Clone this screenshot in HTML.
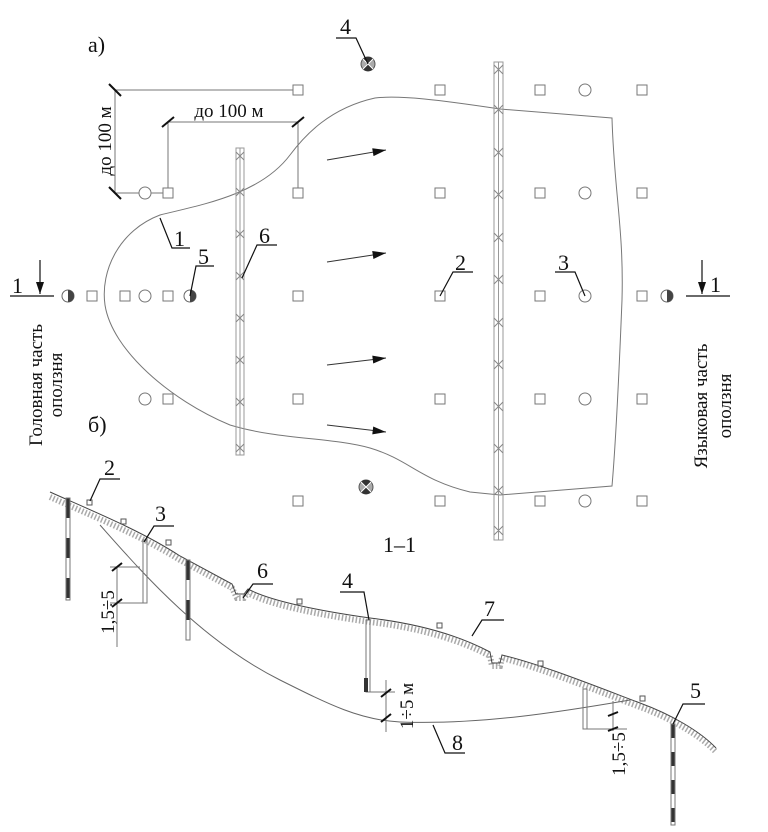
<!DOCTYPE html>
<html><head><meta charset="utf-8"><style>
html,body{margin:0;padding:0;background:#fff}
svg{display:block}
text{font-family:"Liberation Serif",serif;fill:#111}
</style></head><body>
<svg width="768" height="832" viewBox="0 0 768 832" xmlns="http://www.w3.org/2000/svg">
<defs>
<g id="sq"><rect x="-5" y="-5" width="10" height="10" fill="#fff" stroke="#777" stroke-width="1"/></g>
<g id="ci"><circle r="6" fill="#fff" stroke="#777" stroke-width="1"/></g>
<g id="hc"><circle r="6" fill="#fff" stroke="#666" stroke-width="1"/><path d="M0,-6 A6,6 0 0 1 0,6 Z" fill="#444"/></g>
<g id="xc"><circle r="7" fill="#aaa" stroke="#555" stroke-width="1"/><path d="M0,0 L-5,-5 A7,7 0 0 1 5,-5 Z M0,0 L-5,5 A7,7 0 0 0 5,5Z" fill="#333"/><path d="M-5,-5 L5,5 M5,-5 L-5,5" stroke="#fff" stroke-width="1"/></g>
<marker id="ar" viewBox="0 0 10 6" refX="10" refY="3" markerWidth="18" markerHeight="8" orient="auto" markerUnits="userSpaceOnUse"><path d="M0,0 L10,3 L0,6 Z" fill="#111"/></marker>
</defs>

<text x="88" y="52" font-size="22">а)</text>
<text x="88" y="432" font-size="22">б)</text>

<g stroke="#777" stroke-width="1" fill="none">
<line x1="115" y1="90" x2="293" y2="90"/>
<line x1="115" y1="90" x2="115" y2="193"/>
<line x1="115" y1="193" x2="139" y2="193"/>
<line x1="151" y1="193" x2="163" y2="193"/>
<line x1="168" y1="122" x2="298" y2="122"/>
<line x1="168" y1="122" x2="168" y2="188"/>
<line x1="298" y1="122" x2="298" y2="188"/>
</g>
<g stroke="#111" stroke-width="2">
<line x1="109" y1="84" x2="121" y2="96"/>
<line x1="109" y1="187" x2="121" y2="199"/>
<line x1="162" y1="127" x2="174" y2="117"/>
<line x1="292" y1="127" x2="304" y2="117"/>
</g>
<text x="229" y="117" font-size="19" text-anchor="middle">до 100 м</text>
<text transform="translate(111,141) rotate(-90)" font-size="19" text-anchor="middle">до 100 м</text>

<path d="M612,118 L500,109 C440,100 400,95 375,98 C330,108 305,135 290,155 C260,195 200,205 160,215 C120,230 100,270 105,305 C112,350 170,400 230,425 C280,440 330,437 370,448 C410,460 420,480 470,492 L500,495 L612,486 C616,440 620,350 622,300 C624,230 614,190 612,118 Z" fill="none" stroke="#777" stroke-width="1"/>

<g stroke="#999" stroke-width="1" fill="none">
<rect x="236" y="148" width="8" height="307"/>
<line x1="240" y1="148" x2="240" y2="455"/>
<rect x="494" y="62" width="9" height="478"/>
<line x1="498.5" y1="62" x2="498.5" y2="540"/>
</g>
<g stroke="#888" stroke-width="1">
<path d="M236,152l8,8M244,152l-8,8 M236,188l8,8M244,188l-8,8 M236,230l8,8M244,230l-8,8 M236,272l8,8M244,272l-8,8 M236,314l8,8M244,314l-8,8 M236,356l8,8M244,356l-8,8 M236,398l8,8M244,398l-8,8 M236,444l8,8M244,444l-8,8"/>
<path d="M494,65l9,9M503,65l-9,9 M494,105l9,9M503,105l-9,9 M494,148l9,9M503,148l-9,9 M494,190l9,9M503,190l-9,9 M494,233l9,9M503,233l-9,9 M494,275l9,9M503,275l-9,9 M494,318l9,9M503,318l-9,9 M494,360l9,9M503,360l-9,9 M494,402l9,9M503,402l-9,9 M494,444l9,9M503,444l-9,9 M494,486l9,9M503,486l-9,9 M494,526l9,9M503,526l-9,9"/>
</g>

<g stroke="#333" stroke-width="1" marker-end="url(#ar)">
<line x1="327" y1="160" x2="386" y2="150"/>
<line x1="327" y1="262" x2="386" y2="253"/>
<line x1="327" y1="365" x2="386" y2="358"/>
<line x1="327" y1="425" x2="386" y2="432"/>
</g>

<use href="#sq" x="298" y="90"/><use href="#sq" x="440" y="90"/><use href="#sq" x="540" y="90"/><use href="#ci" x="585" y="90"/><use href="#sq" x="642" y="90"/>
<use href="#ci" x="145" y="193"/><use href="#sq" x="168" y="193"/><use href="#sq" x="298" y="193"/><use href="#sq" x="440" y="193"/><use href="#sq" x="540" y="193"/><use href="#ci" x="585" y="193"/><use href="#sq" x="642" y="193"/>
<use href="#hc" x="68" y="296"/><use href="#sq" x="92" y="296"/><use href="#sq" x="125" y="296"/><use href="#ci" x="145" y="296"/><use href="#sq" x="168" y="296"/><use href="#hc" x="190" y="296"/><use href="#sq" x="298" y="296"/><use href="#sq" x="440" y="296"/><use href="#sq" x="540" y="296"/><use href="#ci" x="585" y="296"/><use href="#sq" x="642" y="296"/><use href="#hc" x="667" y="296"/>
<use href="#ci" x="145" y="399"/><use href="#sq" x="168" y="399"/><use href="#sq" x="298" y="399"/><use href="#sq" x="440" y="399"/><use href="#sq" x="540" y="399"/><use href="#ci" x="585" y="399"/><use href="#sq" x="642" y="399"/>
<use href="#sq" x="298" y="501"/><use href="#sq" x="440" y="501"/><use href="#sq" x="540" y="501"/><use href="#ci" x="585" y="501"/><use href="#sq" x="642" y="501"/>
<use href="#xc" x="368" y="64"/><use href="#xc" x="366" y="487"/>

<g stroke="#111" stroke-width="1.2" fill="none">
<path d="M336,38h20l12,26"/>
<path d="M160,218l12,30h18"/>
<path d="M242,278l15,-33h20"/>
<path d="M190,296l6,-30h18"/>
<path d="M440,296l13,-24h20"/>
<path d="M585,296l-10,-24h-20"/>
<path d="M10,296h44 M40,260v34"/>
<path d="M686,296h44 M702,260v34"/>
</g>
<path d="M36,282l4,12l4,-12z M698,282l4,12l4,-12z" fill="#111"/>
<text x="340" y="34" font-size="22">4</text>
<text x="174" y="246" font-size="22">1</text>
<text x="259" y="243" font-size="22">6</text>
<text x="198" y="264" font-size="22">5</text>
<text x="455" y="270" font-size="22">2</text>
<text x="558" y="270" font-size="22">3</text>
<text x="12" y="293" font-size="22">1</text>
<text x="710" y="292" font-size="22">1</text>
<text transform="translate(42,385) rotate(-90)" font-size="19" text-anchor="middle">Головная часть</text>
<text transform="translate(62,385) rotate(-90)" font-size="19" text-anchor="middle">оползня</text>
<text transform="translate(707,406) rotate(-90)" font-size="19" text-anchor="middle">Языковая часть</text>
<text transform="translate(731,406) rotate(-90)" font-size="19" text-anchor="middle">оползня</text>
<text x="383" y="552" font-size="22">1–1</text>

<path d="M50,497 C90,515 140,535 180,560 L232,588 L237,598 L244,598 L248,593 C270,605 320,615 370,622 C420,628 460,640 490,656 L492,666 L500,666 L502,658 C540,668 590,688 640,707 C670,718 700,735 716,752" fill="none" stroke="#aaa" stroke-width="6" stroke-dasharray="1.5 2"/>
<path d="M50,492 C90,510 140,530 180,556 L232,584 L236,594 L244,594 L248,589 C270,601 320,611 370,618 C420,624 460,636 490,652 L492,663 L500,663 L502,655 C540,664 590,684 640,703 C670,714 700,731 716,748" fill="none" stroke="#444" stroke-width="1"/>
<path d="M100,525 C140,570 200,640 280,680 C330,705 360,720 400,722 C480,725 560,712 630,700" fill="none" stroke="#666" stroke-width="1"/>

<g stroke-width="4">
<line x1="68" y1="498" x2="68" y2="600" stroke="#333" stroke-dasharray="20 20"/>
<line x1="188" y1="560" x2="188" y2="640" stroke="#333" stroke-dasharray="20 20"/>
<line x1="673" y1="724" x2="673" y2="825" stroke="#333" stroke-dasharray="14 14"/>
</g>
<g stroke="#777" stroke-width="1" fill="none">
<rect x="66" y="498" width="4" height="102"/>
<rect x="186" y="560" width="4" height="80"/>
<rect x="671" y="724" width="4" height="101"/>
<rect x="143" y="540" width="4" height="63"/>
<rect x="366" y="620" width="4" height="72"/>
<rect x="583" y="689" width="4" height="40"/>
<path d="M110,567h30 M110,603h35 M117,567v80 M370,692h25 M386,680v52 M587,729h40 M613,701v30"/>
</g>
<rect x="364" y="678" width="4" height="14" fill="#333"/>
<g fill="#fff" stroke="#555" stroke-width="1">
<rect x="87" y="500" width="5" height="5"/><rect x="121" y="519" width="5" height="5"/><rect x="166" y="540" width="5" height="5"/>
<rect x="297" y="599" width="5" height="5"/><rect x="437" y="623" width="5" height="5"/><rect x="538" y="661" width="5" height="5"/><rect x="640" y="696" width="5" height="5"/>
</g>
<g stroke="#111" stroke-width="2">
<line x1="112" y1="571" x2="122" y2="563"/><line x1="112" y1="607" x2="122" y2="599"/>
<line x1="381" y1="697" x2="391" y2="689"/><line x1="381" y1="722" x2="391" y2="714"/>
<line x1="608" y1="716" x2="618" y2="712"/><line x1="608" y1="731" x2="618" y2="727"/>
</g>
<text transform="translate(114,612) rotate(-90)" font-size="19" text-anchor="middle">1,5÷5</text>
<text transform="translate(413,706) rotate(-90)" font-size="19" text-anchor="middle">1÷5 м</text>
<text transform="translate(625,754) rotate(-90)" font-size="19" text-anchor="middle">1,5÷5</text>

<g stroke="#111" stroke-width="1.2" fill="none">
<path d="M90,501l10,-22h20"/>
<path d="M144,542l10,-16h20"/>
<path d="M243,598l10,-14h20"/>
<path d="M369,620l-5,-28h-24"/>
<path d="M472,636l10,-16h22"/>
<path d="M433,725l12,28h20"/>
<path d="M673,724l10,-20h22"/>
</g>
<text x="104" y="475" font-size="22">2</text>
<text x="155" y="521" font-size="22">3</text>
<text x="257" y="578" font-size="22">6</text>
<text x="342" y="588" font-size="22">4</text>
<text x="484" y="616" font-size="22">7</text>
<text x="452" y="750" font-size="22">8</text>
<text x="690" y="698" font-size="22">5</text>
</svg>
</body></html>
